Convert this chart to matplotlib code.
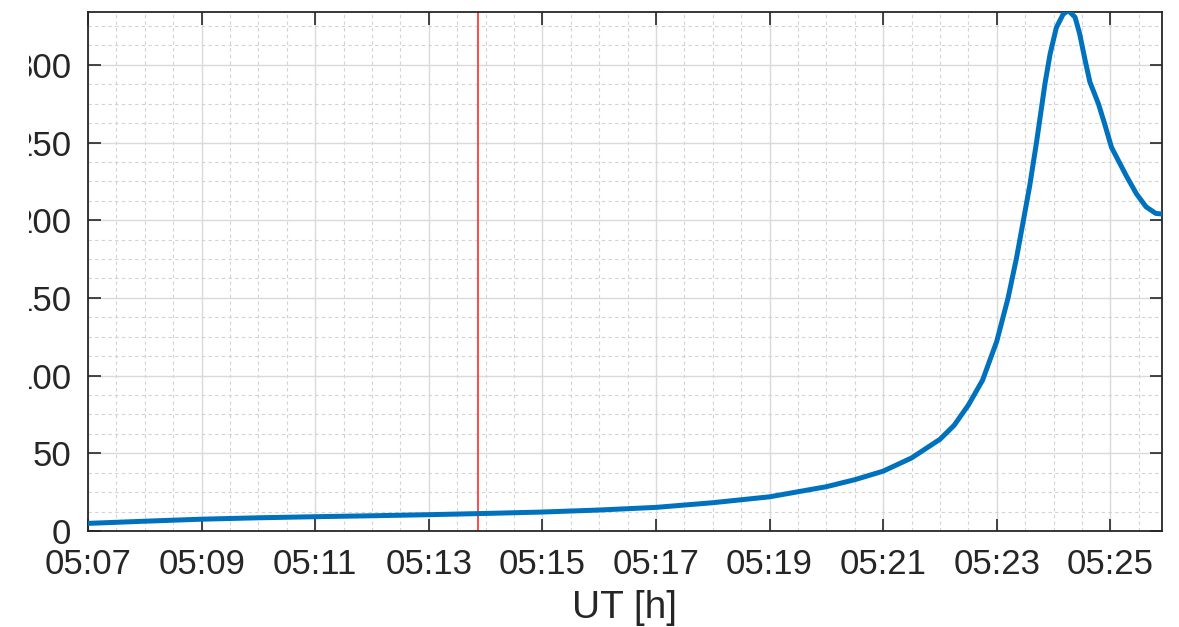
import numpy as np
import matplotlib
matplotlib.use("Agg")
import matplotlib.pyplot as plt
from matplotlib.ticker import MultipleLocator, FuncFormatter
from matplotlib.patches import Rectangle

# time in minutes after 05:00 UT, value
t_min = [7.0, 8.0, 9.0, 10.0, 11.0, 12.0, 13.0, 14.0, 15.0, 16.0, 17.0, 18.0,
         19.0, 20.0, 20.5, 21.0, 21.5, 22.0, 22.25, 22.5, 22.75, 23.0, 23.2,
         23.35, 23.47, 23.58, 23.7, 23.85, 23.94, 24.05, 24.17, 24.26, 24.38,
         24.46, 24.55, 24.64, 24.79, 24.9, 25.02, 25.14, 25.29, 25.46, 25.63,
         25.8, 25.91]
vals = [4.9, 6.3, 7.6, 8.5, 9.2, 9.8, 10.5, 11.3, 12.2, 13.5, 15.2, 18.2,
        22.0, 28.5, 33.0, 38.5, 47.0, 59.0, 68.0, 81.0, 97.0, 122.0, 150.0,
        176.0, 200.0, 222.0, 250.0, 288.0, 307.0, 324.0, 332.6, 335.0, 330.6,
        320.0, 304.0, 289.0, 275.0, 262.0, 247.0, 238.5, 228.0, 217.0, 208.6,
        204.4, 204.0]
marker_t = 13.87  # red vertical marker, ~05:13:52

xticks = [7, 9, 11, 13, 15, 17, 19, 21, 23, 25]

plt.rcParams['font.family'] = ['Liberation Sans', 'DejaVu Sans']
txt = '#262626'

fig = plt.figure(figsize=(11.79, 6.27), dpi=100)
ax = fig.add_axes([88/1179, 96/627, (1162-88)/1179, (531-12)/627])

ax.plot(t_min, vals, color='#0072BD', lw=3.6, solid_capstyle='round',
        solid_joinstyle='round', zorder=3)
ax.axvline(marker_t, color='#ff3b3b', lw=1.3, zorder=2)

ax.set_xlim(7.0, 25.91)
ax.set_ylim(0, 334)
ax.set_xticks(xticks)
ax.xaxis.set_major_formatter(FuncFormatter(lambda v, p: f"05:{int(round(v)):02d}"))
ax.xaxis.set_minor_locator(MultipleLocator(0.5))
ax.yaxis.set_major_locator(MultipleLocator(50))
ax.yaxis.set_minor_locator(MultipleLocator(12.5))

ax.grid(which='major', color='#dadada', lw=1.0, ls='-', zorder=0)
ax.grid(which='minor', color='#d2d2d2', lw=0.8, ls=(0, (3, 3)), zorder=0)
ax.set_axisbelow(True)

ax.tick_params(which='major', direction='in', length=9, width=1.2, color=txt,
               labelsize=25, labelcolor=txt, top=True, right=True)
ax.tick_params(axis='y', pad=12)
ax.tick_params(axis='x', pad=12)
ax.tick_params(which='minor', length=0, top=True, right=True)
for s in ax.spines.values():
    s.set_color(txt)
    s.set_linewidth(1.3)

ax.set_xlabel('UT [h]', fontsize=28, color=txt, labelpad=7)

# the reference image is cut off on the left, through the y tick labels
fig.patches.append(Rectangle((0, 0), 29/1179, 1, transform=fig.transFigure,
                             facecolor='white', edgecolor='none', zorder=10))

fig.savefig('out.png', dpi=100)
